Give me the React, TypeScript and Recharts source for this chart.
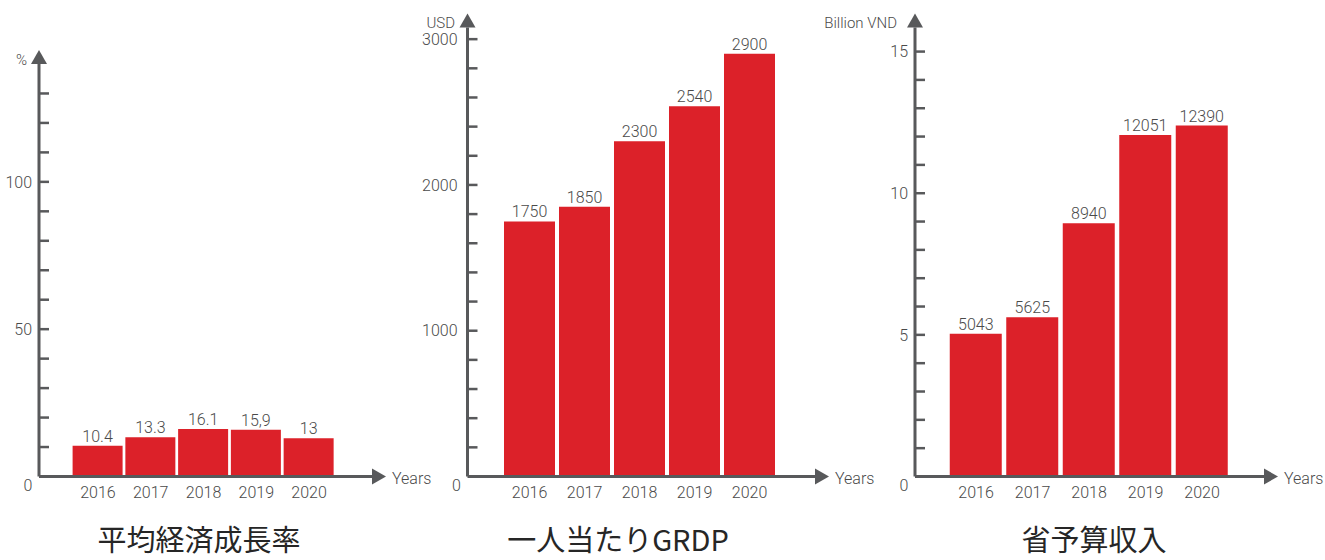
import React from 'react';
import { BarChart, Bar, XAxis, YAxis, LabelList } from 'recharts';

const years = ['2016', '2017', '2018', '2019', '2020'];

const growthValues = [10.4, 13.3, 16.1, 15.9, 13];
const growthLabels = ['10.4', '13.3', '16.1', '15,9', '13'];
const growthTicks = [0, 10, 20, 30, 40, 50, 60, 70, 80, 90, 100, 110, 120, 130];

const grdpValues = [1750, 1850, 2300, 2540, 2900];
const grdpLabels = ['1750', '1850', '2300', '2540', '2900'];
const grdpTicks = [0, 200, 400, 600, 800, 1000, 1200, 1400, 1600, 1800, 2000, 2200, 2400, 2600, 2800, 3000];

const budgetValues = [5043, 5625, 8940, 12051, 12390];
const budgetLabels = ['5043', '5625', '8940', '12051', '12390'];
const budgetTicks = [0, 1000, 2000, 3000, 4000, 5000, 6000, 7000, 8000, 9000, 10000, 11000, 12000, 13000, 14000, 15000];

const titles = ['平均経済成長率', '一人当たりGRDP', '省予算収入'];

const GRAY = '#58595b';
const RED = '#dc2129';
const TEXT = '#4a4a4a';
const FONT = 'Roboto, "Noto Sans", sans-serif';
const H = 560;
const AXIS_Y = 476.5;
const X_AXIS_H = 30;

type PanelProps = {
  left: number;
  width: number;
  yAxisWidth: number;
  plotTop: number;
  plotRight: number;
  domainMax: number;
  ticks: number[];
  majorStep: number;
  fmt: (v: number) => string;
  labelGap: number;
  unit: string;
  unitGap: number;
  values: number[];
  labels: string[];
  barSize: number;
  padLeft: number;
  padRight: number;
};

function Panel(p: PanelProps) {
  const data = years.map((year, i) => ({ year, value: p.values[i], label: p.labels[i] }));

  const yTick = (props: any) => {
    const { x, y, payload } = props;
    const v = payload.value as number;
    if (v === 0) {
      return (
        <text x={x - 11} y={y + 14.5} textAnchor="middle" fontSize={16} fontFamily={FONT} fontWeight={300} fill={TEXT}>
          0
        </text>
      );
    }
    const major = v % p.majorStep === 0;
    return (
      <g>
        <line x1={x + 1} x2={x + 10} y1={y} y2={y} stroke={GRAY} strokeWidth={2.5} />
        {major && (
          <text x={x - p.labelGap} y={y + 5.7} textAnchor="end" fontSize={16} fontFamily={FONT} fontWeight={300} fill={TEXT}>
            {p.fmt(v)}
          </text>
        )}
      </g>
    );
  };

  const xTick = (props: any) => {
    const { x, y, payload } = props;
    return (
      <text x={x} y={y + 21} textAnchor="middle" fontSize={16} fontFamily={FONT} fontWeight={300} fill={TEXT}>
        {payload.value}
      </text>
    );
  };

  // arrowhead + unit caption on top of the value axis
  const yArrow = (props: any) => {
    const vb = props.viewBox || {};
    const ax = vb.x != null ? vb.x + vb.width : p.yAxisWidth;
    const top = vb.y != null ? vb.y : p.plotTop;
    return (
      <g>
        <polygon points={`${ax},${top - 14} ${ax - 8},${top} ${ax + 8},${top}`} fill={GRAY} />
        <text x={ax - p.unitGap} y={top + 0.5} textAnchor="end" fontSize={15} fontFamily={FONT} fontWeight={300} fill={TEXT}>
          {p.unit}
        </text>
      </g>
    );
  };

  // arrowhead + "Years" at the end of the category axis
  const xArrow = (props: any) => {
    const vb = props.viewBox || {};
    const end = vb.x != null ? vb.x + vb.width : p.plotRight;
    const ay = vb.y != null ? vb.y : AXIS_Y;
    return (
      <g>
        <polygon points={`${end},${ay - 8} ${end + 14},${ay} ${end},${ay + 8}`} fill={GRAY} />
        <text x={end + 20} y={ay + 7.5} textAnchor="start" fontSize={16} fontFamily={FONT} fontWeight={300} fill={TEXT}>
          Years
        </text>
      </g>
    );
  };

  return (
    <div style={{ position: 'absolute', left: p.left, top: 0 }}>
      <BarChart
        width={p.width}
        height={H}
        data={data}
        margin={{ top: p.plotTop, right: p.width - p.plotRight, bottom: H - AXIS_Y - X_AXIS_H, left: 0 }}
      >
        <XAxis
          dataKey="year"
          height={X_AXIS_H}
          padding={{ left: p.padLeft, right: p.padRight }}
          axisLine={{ stroke: GRAY, strokeWidth: 3 }}
          tickLine={false}
          tickSize={0}
          tickMargin={0}
          interval={0}
          tick={xTick}
          label={{ content: xArrow }}
        />
        <YAxis
          width={p.yAxisWidth}
          type="number"
          domain={[0, p.domainMax]}
          ticks={p.ticks}
          interval={0}
          axisLine={{ stroke: GRAY, strokeWidth: 3 }}
          tickLine={false}
          tickSize={0}
          tickMargin={0}
          tick={yTick}
          label={{ content: yArrow }}
        />
        <Bar dataKey="value" fill={RED} barSize={p.barSize} isAnimationActive={false}>
          <LabelList
            dataKey="label"
            position="top"
            offset={4}
            fill={TEXT}
            fontSize={16}
            fontFamily={FONT}
            fontWeight={300}
          />
        </Bar>
      </BarChart>
    </div>
  );
}

export default function App() {
  return (
    <div style={{ position: 'absolute', left: 0, top: 0, width: 1325, height: H, background: '#fff', overflow: 'hidden' }}>
      <Panel
        left={0}
        width={445}
        yAxisWidth={39}
        plotTop={64}
        plotRight={372}
        domainMax={140}
        ticks={growthTicks}
        majorStep={50}
        fmt={(v) => String(v)}
        labelGap={7}
        unit="%"
        unitGap={12}
        values={growthValues}
        labels={growthLabels}
        barSize={50}
        padLeft={32.6}
        padRight={36.6}
      />
      <Panel
        left={400}
        width={480}
        yAxisWidth={67.5}
        plotTop={27.5}
        plotRight={415}
        domainMax={3080}
        ticks={grdpTicks}
        majorStep={1000}
        fmt={(v) => String(v)}
        labelGap={10}
        unit="USD"
        unitGap={12.5}
        values={grdpValues}
        labels={grdpLabels}
        barSize={51}
        padLeft={34.5}
        padRight={38}
      />
      <Panel
        left={800}
        width={525}
        yAxisWidth={115}
        plotTop={27.5}
        plotRight={464}
        domainMax={15850}
        ticks={budgetTicks}
        majorStep={5000}
        fmt={(v) => String(v / 1000)}
        labelGap={7}
        unit="Billion VND"
        unitGap={18}
        values={budgetValues}
        labels={budgetLabels}
        barSize={52}
        padLeft={32.75}
        padRight={33.75}
      />
      <svg width={1325} height={H} style={{ position: 'absolute', left: 0, top: 0, pointerEvents: 'none' }}>
        {titles.map((t, i) => (
          <text
            key={t}
            x={[199, 618, 1094][i]}
            y={551}
            textAnchor="middle"
            fontSize={29}
            fontFamily='"Noto Sans CJK JP", "Noto Sans", sans-serif'
            fill="#262626"
          >
            {t}
          </text>
        ))}
      </svg>
    </div>
  );
}
